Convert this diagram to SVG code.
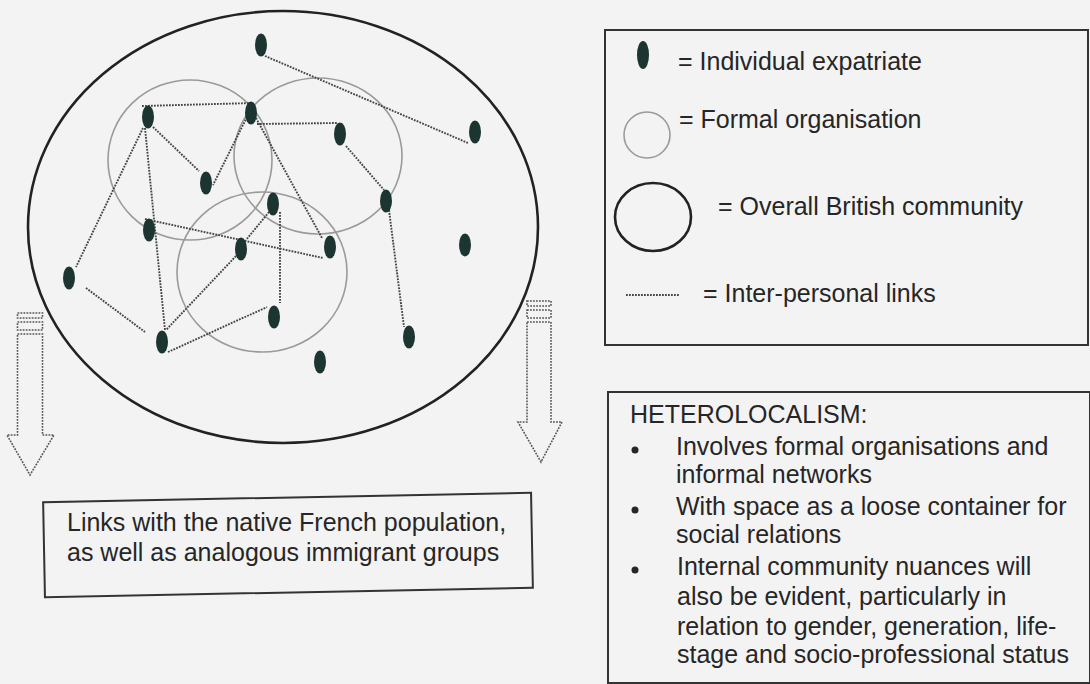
<svg xmlns="http://www.w3.org/2000/svg" width="1090" height="684" viewBox="0 0 1090 684">
  <style>
    .txt { font-family: "Liberation Sans", Arial, sans-serif; font-size: 25px; fill: #262626; }
    .person { fill: #1d3530; }
    .org { fill: none; stroke: #9a9a9a; stroke-width: 1.6; }
    .community { fill: none; stroke: #222; stroke-width: 2.6; }
    .link { stroke: #454545; stroke-width: 1.9; stroke-dasharray: 1.8 1.2; fill: none; }
    .frame { fill: none; stroke: #333; stroke-width: 2; }
    .flow { fill: none; stroke: #555; stroke-width: 1.6; stroke-dasharray: 1.8 1.2; }
  </style>

  <rect width="1090" height="684" fill="#f3f3f3"/>

  <!-- overall community and formal organisations -->
  <g id="community">
    <ellipse class="community" cx="283" cy="227" rx="255" ry="216"/>
  </g>
  <g id="organisations">
    <ellipse class="org" cx="190" cy="160" rx="82" ry="80"/>
    <ellipse class="org" cx="318" cy="156" rx="84" ry="78"/>
    <ellipse class="org" cx="262" cy="272" rx="85" ry="80"/>
  </g>

  <!-- inter-personal links -->
  <g id="links">
    <line class="link" x1="265" y1="56" x2="468" y2="143"/>
    <line class="link" x1="142" y1="106" x2="253" y2="103"/>
    <line class="link" x1="257" y1="124" x2="337" y2="123"/>
    <line class="link" x1="153" y1="127" x2="199" y2="171"/>
    <line class="link" x1="247" y1="117" x2="213" y2="185"/>
    <line class="link" x1="143" y1="128" x2="76" y2="267"/>
    <line class="link" x1="145" y1="128" x2="165" y2="330"/>
    <line class="link" x1="256" y1="118" x2="322" y2="238"/>
    <line class="link" x1="145" y1="219" x2="323" y2="258"/>
    <line class="link" x1="269" y1="212" x2="246" y2="240"/>
    <line class="link" x1="280" y1="212" x2="280" y2="303"/>
    <line class="link" x1="236" y1="256" x2="166" y2="330"/>
    <line class="link" x1="168" y1="352" x2="267" y2="307"/>
    <line class="link" x1="86" y1="288" x2="145" y2="332"/>
    <line class="link" x1="346" y1="146" x2="384" y2="190"/>
    <line class="link" x1="389" y1="210" x2="404" y2="327"/>
  </g>

  <!-- individual expatriates -->
  <g id="people">
    <ellipse id="p1" class="person" cx="261" cy="45" rx="6" ry="11.5"/>
    <ellipse id="p2" class="person" cx="148" cy="117" rx="6" ry="11.5"/>
    <ellipse id="p3" class="person" cx="251" cy="113" rx="6" ry="11.5"/>
    <ellipse id="p4" class="person" cx="340" cy="134" rx="6" ry="11.5"/>
    <ellipse id="p5" class="person" cx="475" cy="132" rx="6" ry="11.5"/>
    <ellipse id="p6" class="person" cx="206" cy="183" rx="6" ry="11.5"/>
    <ellipse id="p7" class="person" cx="273" cy="204" rx="6" ry="11.5"/>
    <ellipse id="p8" class="person" cx="386" cy="201" rx="6" ry="11.5"/>
    <ellipse id="p9" class="person" cx="149" cy="230" rx="6" ry="11.5"/>
    <ellipse id="p10" class="person" cx="241" cy="249" rx="6" ry="11.5"/>
    <ellipse id="p11" class="person" cx="330" cy="247" rx="6" ry="11.5"/>
    <ellipse id="p12" class="person" cx="465" cy="245" rx="6" ry="11.5"/>
    <ellipse id="p13" class="person" cx="69" cy="278" rx="6" ry="11.5"/>
    <ellipse id="p14" class="person" cx="274" cy="317" rx="6" ry="11.5"/>
    <ellipse id="p15" class="person" cx="162" cy="342" rx="6" ry="11.5"/>
    <ellipse id="p16" class="person" cx="409" cy="337" rx="6" ry="11.5"/>
    <ellipse id="p17" class="person" cx="320" cy="362" rx="6" ry="11.5"/>
  </g>

  <!-- striped outflow arrows -->
  <g id="arrow-left">
    <rect class="flow" x="17.5" y="313" width="25" height="5"/>
    <rect class="flow" x="17.5" y="322" width="25" height="8"/>
    <path class="flow" d="M17.5 334 H42.5 V435 H54 L30 475 L7 435 H17.5 Z"/>
  </g>
  <g id="arrow-right">
    <rect class="flow" x="527" y="301" width="24" height="5"/>
    <rect class="flow" x="527" y="310" width="24" height="8"/>
    <path class="flow" d="M527 322 H551 V422 H562 L541 462 L518 422 H527 Z"/>
  </g>

  <!-- outward links box -->
  <g id="outward">
    <rect class="frame" x="44" y="497.5" width="488" height="95" transform="rotate(-1.1 288 545)"/>
    <text class="txt" x="67" y="531">Links with the native French population,</text>
    <text class="txt" x="67" y="561">as well as analogous immigrant groups</text>
  </g>

  <!-- key -->
  <g id="legend">
    <rect class="frame" x="605" y="30" width="483" height="315"/>
    <ellipse class="person" cx="643" cy="55" rx="6" ry="14"/>
    <text class="txt" x="678" y="70">= Individual expatriate</text>
    <circle class="org" cx="647" cy="135" r="23"/>
    <text class="txt" x="679" y="128">= Formal organisation</text>
    <ellipse class="community" cx="653" cy="217" rx="38" ry="34"/>
    <text class="txt" x="718" y="215">= Overall British community</text>
    <line class="link" x1="626" y1="295" x2="679" y2="295" stroke-width="1.3"/>
    <text class="txt" x="703" y="302">= Inter-personal links</text>
  </g>

  <!-- heterolocalism summary -->
  <g id="heterolocalism">
    <rect class="frame" x="608" y="392" width="482" height="291"/>
    <text class="txt" x="630" y="423">HETEROLOCALISM:</text>
    <circle cx="635" cy="450" r="3.5" fill="#262626"/>
    <text class="txt" x="676" y="455">Involves formal organisations and</text>
    <text class="txt" x="676" y="483">informal networks</text>
    <circle cx="635" cy="510" r="3.5" fill="#262626"/>
    <text class="txt" x="676" y="515">With space as a loose container for</text>
    <text class="txt" x="676" y="543">social relations</text>
    <circle cx="635" cy="570" r="3.5" fill="#262626"/>
    <text class="txt" x="677" y="575">Internal community nuances will</text>
    <text class="txt" x="677" y="605">also be evident, particularly in</text>
    <text class="txt" x="677" y="635">relation to gender, generation, life-</text>
    <text class="txt" x="677" y="663">stage and socio-professional status</text>
  </g>
</svg>
